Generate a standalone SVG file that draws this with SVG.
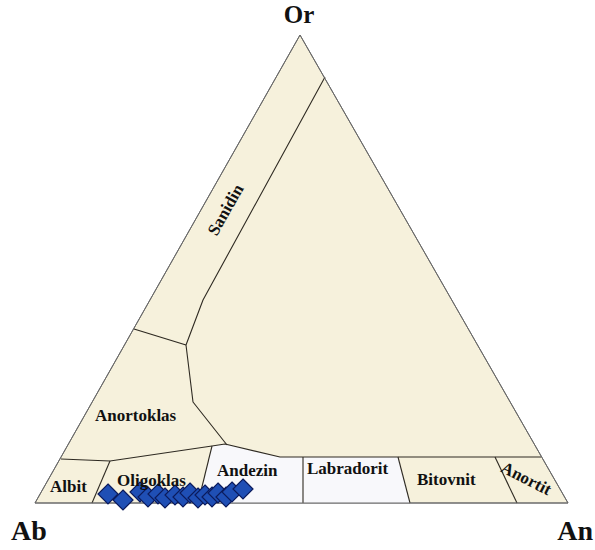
<svg xmlns="http://www.w3.org/2000/svg" width="595" height="550" viewBox="0 0 595 550">
<style>
.fill{fill:#f6f1dc;stroke:#6a6a6a;stroke-width:1}
.white{fill:#f8f8fb;stroke:none}
.ln{fill:none;stroke:#2e2a22;stroke-width:1.1;stroke-linejoin:round}
.lbl{font-family:"Liberation Serif","Times New Roman",serif;font-weight:bold;font-size:17px;fill:#111}
.ax{font-family:"Liberation Serif","Times New Roman",serif;font-weight:bold;fill:#111}
.pt{fill:#1f4fb5;stroke:#0c1b5c;stroke-width:1.2}
</style>
<defs>
<path id="dia" d="M0,-10 L10,0 L0,10 L-10,0 Z"/>
</defs>
<rect width="595" height="550" fill="#ffffff"/>
<g id="triangle">
<polygon class="fill" points="300,35 568,503 35,503"/>
</g>
<g id="andezin-region">
<polygon class="white" points="212,446 225,444 280,457 303,457 303,503 198,503"/>
</g>
<g id="labradorit-region">
<polygon class="white" points="303,457 398,457 410,503 303,503"/>
</g>
<g id="boundaries">
<polyline class="ln" points="325,77 203,300 186,345 193,402 227,445"/>
<polyline class="ln" points="134,329 186,345"/>
<polyline class="ln" points="61,459 110,461 212,446 225,444 280,457 541,457"/>
<line class="ln" x1="110" y1="461" x2="92" y2="503"/>
<line class="ln" x1="212" y1="446" x2="198" y2="503"/>
<line class="ln" x1="303" y1="457" x2="303" y2="503"/>
<line class="ln" x1="398" y1="457" x2="410" y2="503"/>
<line class="ln" x1="495" y1="457" x2="517" y2="503"/>
<polygon points="300,35 568,503 35,503" fill="none" stroke="#6a6a6a" stroke-width="1"/>
</g>
<g id="points">
<use href="#dia" class="pt" x="108" y="494"/>
<use href="#dia" class="pt" x="123" y="500"/>
<use href="#dia" class="pt" x="140" y="492"/>
<use href="#dia" class="pt" x="148" y="497"/>
<use href="#dia" class="pt" x="158" y="494"/>
<use href="#dia" class="pt" x="165" y="498"/>
<use href="#dia" class="pt" x="175" y="495"/>
<use href="#dia" class="pt" x="183" y="497"/>
<use href="#dia" class="pt" x="190" y="493"/>
<use href="#dia" class="pt" x="198" y="498"/>
<use href="#dia" class="pt" x="205" y="495"/>
<use href="#dia" class="pt" x="212" y="497"/>
<use href="#dia" class="pt" x="218" y="493"/>
<use href="#dia" class="pt" x="226" y="497"/>
<use href="#dia" class="pt" x="232" y="492"/>
<use href="#dia" class="pt" x="243" y="489"/>
</g>
<g id="labels">
<text class="lbl" transform="translate(226,210) rotate(-60.5)" text-anchor="middle" y="5">Sanidin</text>
<text class="lbl" x="95" y="421">Anortoklas</text>
<text class="lbl" x="50" y="492">Albit</text>
<text class="lbl" x="117" y="486">Oligoklas</text>
<text class="lbl" x="217" y="476">Andezin</text>
<text class="lbl" x="307" y="474">Labradorit</text>
<text class="lbl" x="417" y="485">Bitovnit</text>
<text class="lbl" transform="translate(526,479) rotate(27)" text-anchor="middle" y="5">Anortit</text>
</g>
<g id="axes">
<text class="ax" x="299" y="23" font-size="25" text-anchor="middle">Or</text>
<text class="ax" x="11" y="540" font-size="28">Ab</text>
<text class="ax" x="593" y="540" font-size="28" text-anchor="end">An</text>
</g>
</svg>
